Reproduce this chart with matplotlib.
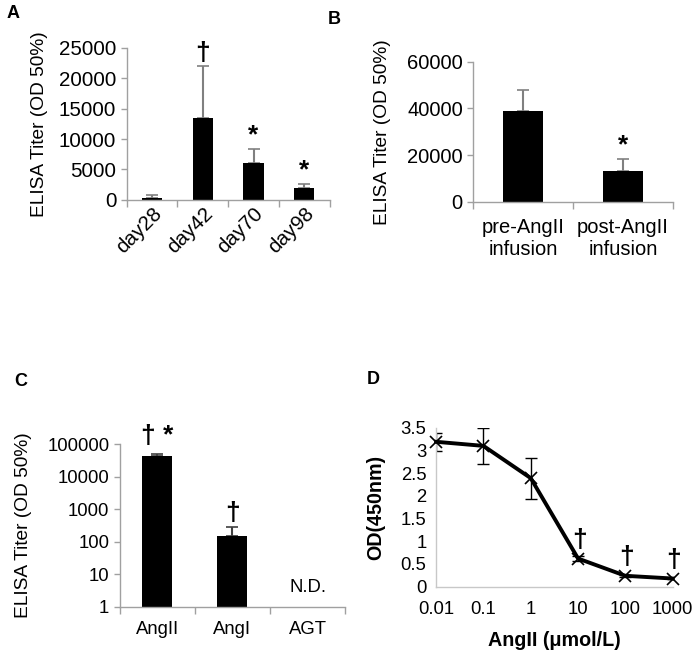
import matplotlib
matplotlib.use("Agg")
import matplotlib.pyplot as plt
import numpy as np

plt.rcParams['font.family'] = ['Liberation Sans', 'DejaVu Sans']

# Panel A
a_cats = ['day28', 'day42', 'day70', 'day98']
a_vals = [300, 13500, 6000, 1900]
a_err = [400, 8500, 2400, 700]
a_marks = ['', '†', '*', '*']
a_yticks = [0, 5000, 10000, 15000, 20000, 25000]

# Panel B
b_cats = ['pre-AngII\ninfusion', 'post-AngII\ninfusion']
b_vals = [38700, 13300]
b_err = [9000, 4800]
b_marks = ['', '*']
b_yticks = [0, 20000, 40000, 60000]

# Panel C
c_cats = ['AngII', 'AngI', 'AGT']
c_vals = [43500, 147, np.nan]
c_err = [6500, 143, 0]
c_marks = ['† *', '†', '']
c_yticks = [1, 10, 100, 1000, 10000, 100000]

# Panel D
d_x = [0.01, 0.1, 1, 10, 100, 1000]
d_y = [3.19, 3.10, 2.39, 0.62, 0.24, 0.18]
d_err = [0.2, 0.4, 0.45, 0.05, 0.02, 0.02]
d_marks = ['', '', '', '†', '†', '†']
d_yticks = [0, 0.5, 1, 1.5, 2, 2.5, 3, 3.5]
d_yticklabels = ['0', '0.5', '1', '1.5', '2', '2.5', '3', '3.5']

fig = plt.figure(figsize=(7, 6.57), dpi=100)
GREY = '#a0a0a0'
LFS = 13.8

def style(ax, fs):
    for s in ['top', 'right']:
        ax.spines[s].set_visible(False)
    for s in ['left', 'bottom']:
        ax.spines[s].set_color(GREY)
        ax.spines[s].set_linewidth(1.0)
    ax.tick_params(axis='both', colors=GREY, labelcolor='black', labelsize=fs, length=4, width=1)

def cat_ticks(ax, n, fs):
    ax.set_xlim(0, n)
    ax.set_xticks(np.arange(n + 1), minor=False)
    ax.set_xticklabels([''] * (n + 1))
    ax.set_xticks(np.arange(n) + 0.5, minor=True)
    ax.tick_params(axis='x', which='major', length=5, direction='out')
    ax.tick_params(axis='x', which='minor', length=0, labelsize=fs)

# A
axA = fig.add_axes([0.181, 0.696, 0.290, 0.231])
style(axA, 14.8)
xa = np.arange(len(a_cats)) + 0.5
axA.bar(xa, a_vals, width=0.4, color='black', zorder=2)
axA.errorbar(xa, a_vals, yerr=[np.zeros(len(a_err)), a_err], fmt='none',
             ecolor='#808080', elinewidth=1.5, capsize=4, capthick=1.2, zorder=1)
for x, v, e, m in zip(xa, a_vals, a_err, a_marks):
    if m:
        axA.text(x, v + e + 200, m, ha='center', va='bottom', fontsize=19, fontweight='bold')
axA.set_ylim(0, 25000)
axA.set_yticks(a_yticks)
cat_ticks(axA, len(a_cats), 14.8)
axA.set_xticklabels(a_cats, minor=True, rotation=45, ha='right', rotation_mode='anchor')
axA.set_ylabel('ELISA Titer (OD 50%)', fontsize=LFS)
axA.yaxis.set_label_coords(-0.39, 0.5)

# B
axB = fig.add_axes([0.676, 0.693, 0.285, 0.213])
style(axB, 14.5)
xb = np.arange(len(b_cats)) + 0.5
axB.bar(xb, b_vals, width=0.4, color='black', zorder=2)
axB.errorbar(xb, b_vals, yerr=[np.zeros(len(b_err)), b_err], fmt='none',
             ecolor='#808080', elinewidth=1.5, capsize=4, capthick=1.2, zorder=1)
for x, v, e, m in zip(xb, b_vals, b_err, b_marks):
    if m:
        axB.text(x, v + e + 1000, m, ha='center', va='bottom', fontsize=19, fontweight='bold')
axB.set_ylim(0, 60000)
axB.set_yticks(b_yticks)
cat_ticks(axB, len(b_cats), 14.5)
axB.set_xticklabels(b_cats, minor=True)
axB.tick_params(axis='x', which='minor', pad=12)
axB.set_ylabel('ELISA Titer (OD 50%)', fontsize=LFS)
axB.yaxis.set_label_coords(-0.41, 0.5)

# C
axC = fig.add_axes([0.171, 0.0766, 0.322, 0.2471])
style(axC, 13.3)
xc = np.arange(len(c_cats)) + 0.5
axC.set_yscale('log')
axC.bar(xc, c_vals, width=0.4, color='black', zorder=2)
ce = np.array(c_err)
axC.errorbar(xc[:2], c_vals[:2], yerr=[np.zeros(2), ce[:2]], fmt='none',
             ecolor='#404040', elinewidth=1.5, capsize=4, capthick=1.2, zorder=1)
axC.text(xc[0], 75000, c_marks[0], ha='center', va='bottom', fontsize=19, fontweight='bold')
axC.text(xc[1], 330, c_marks[1], ha='center', va='bottom', fontsize=19, fontweight='bold')
axC.text(xc[2], 4, 'N.D.', ha='center', va='center', fontsize=13.3)
axC.set_ylim(1, 100000)
axC.set_yticks(c_yticks)
axC.set_yticklabels([str(t) for t in c_yticks])
axC.minorticks_off()
cat_ticks(axC, len(c_cats), 13.3)
axC.set_xticklabels(c_cats, minor=True)
axC.tick_params(axis='x', which='minor', pad=10)
axC.set_ylabel('ELISA Titer (OD 50%)', fontsize=LFS)
axC.yaxis.set_label_coords(-0.39, 0.5)

# D
axD = fig.add_axes([0.623, 0.107, 0.338, 0.242])
style(axD, 13.3)
axD.spines['left'].set_color('#c8c8c8')
axD.spines['bottom'].set_color('#c8c8c8')
axD.set_xscale('log')
axD.errorbar(d_x, d_y, yerr=d_err, fmt='none', ecolor='black', elinewidth=1.0,
             capsize=4, capthick=1.0, zorder=2)
axD.plot(d_x, d_y, color='black', linewidth=2.8, marker='x', markersize=9,
         markeredgewidth=1.2, zorder=3, clip_on=False)
for x, y, m in zip(d_x, d_y, d_marks):
    if m:
        axD.text(x * 1.05, y + 0.15, m, ha='center', va='bottom', fontsize=19, fontweight='bold')
axD.set_xlim(0.01, 1000)
axD.set_ylim(0, 3.5)
axD.set_xticks(d_x)
axD.set_xticklabels(['0.01', '0.1', '1', '10', '100', '1000'])
axD.minorticks_off()
axD.set_yticks(d_yticks)
axD.set_yticklabels(d_yticklabels)
axD.tick_params(axis='both', length=0, pad=10)
axD.tick_params(axis='y', pad=7)
axD.set_xlabel('AngII (μmol/L)', fontsize=14.2, fontweight='bold', labelpad=10)
axD.set_ylabel('OD(450nm)', fontsize=14.2, fontweight='bold')
axD.yaxis.set_label_coords(-0.215, 0.5)

# Panel labels
for lbl, x, y in [('A', 13, 14), ('B', 334, 19), ('C', 21, 381), ('D', 373, 380)]:
    fig.text(x / 700, 1 - y / 657, lbl, ha='center', va='center', fontsize=13, fontweight='bold')

fig.savefig('out.png', dpi=100)
